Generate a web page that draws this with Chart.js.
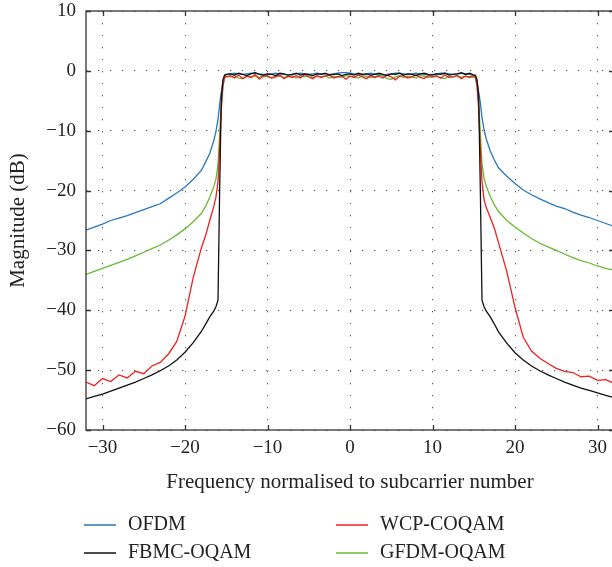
<!DOCTYPE html>
<html>
<head>
<meta charset="utf-8">
<script src="https://cdn.jsdelivr.net/npm/chart.js@4.4.0/dist/chart.umd.min.js"></script>
<style>
html,body{margin:0;padding:0;background:#fff;overflow:hidden}
#wrap{position:relative;width:620px;height:567px}
</style>
</head>
<body>
<div id="wrap"><canvas id="spectrum"></canvas></div>
<script>
// x positions (frequency normalised to subcarrier number)
const freq = [-32,-31,-30,-29,-28,-27,-26,-25,-24,-23,-22,-21,-20,-19,-18,-17.5,-17,-16.5,-16.25,-16,-15.8,-15.6,-15.4,-15.2,
  -15,-14.5,-14,-13.5,-13,-12.5,-12,-11.5,-11,-10.5,-10,-9.5,-9,-8.5,-8,-7.5,-7,-6.5,-6,-5.5,-5,-4.5,-4,-3.5,-3,-2.5,-2,-1.5,-1,-0.5,
  0,0.5,1,1.5,2,2.5,3,3.5,4,4.5,5,5.5,6,6.5,7,7.5,8,8.5,9,9.5,10,10.5,11,11.5,12,12.5,13,13.5,14,14.5,15,
  15.2,15.4,15.6,15.8,16,16.25,16.5,17,17.5,18,19,20,21,22,23,24,25,26,27,28,29,30,31,32];

// magnitudes in dB
const ofdm = [-26.6,-26.1,-25.6,-25.0,-24.6,-24.2,-23.7,-23.2,-22.7,-22.2,-21.3,-20.4,-19.4,-18.1,-16.6,-15.2,-13.8,-11.6,-10.1,-8.1,-5.6,-3.5,-1.8,-0.9,
  -0.6,-0.5,-0.4,-0.5,-0.6,-0.5,-0.4,-0.4,-0.5,-0.6,-0.6,-0.5,-0.4,-0.5,-0.6,-0.7,-0.6,-0.5,-0.4,-0.5,-0.6,-0.5,-0.4,-0.5,-0.5,-0.6,-0.5,-0.4,-0.3,-0.3,
  -0.4,-0.5,-0.6,-0.6,-0.5,-0.4,-0.5,-0.6,-0.7,-0.6,-0.5,-0.4,-0.4,-0.5,-0.6,-0.5,-0.4,-0.5,-0.6,-0.7,-0.6,-0.5,-0.4,-0.4,-0.5,-0.6,-0.5,-0.4,-0.5,-0.6,-0.8,
  -0.9,-1.8,-3.5,-5.3,-7.8,-9.8,-11.3,-13.4,-14.9,-16.2,-17.6,-18.8,-19.9,-20.7,-21.4,-22.0,-22.6,-23.0,-23.6,-24.1,-24.5,-25.0,-25.5,-26.0];

const wcp = [-52.0,-52.6,-51.4,-51.9,-50.8,-51.3,-50.2,-50.6,-49.3,-48.7,-47.3,-45.2,-41.0,-34.5,-29.5,-27.5,-25.0,-22.6,-21.1,-18.6,-13.0,-6.5,-2.5,-1.1,
  -1.0,-0.8,-1.2,-0.7,-1.3,-0.9,-1.1,-0.6,-1.4,-0.9,-0.8,-1.2,-1.0,-0.7,-1.3,-0.9,-1.1,-0.8,-1.2,-0.6,-1.0,-1.3,-0.8,-1.1,-0.9,-0.7,-1.2,-1.0,-0.8,-1.4,
  -0.9,-1.1,-0.7,-1.0,-1.3,-0.8,-1.1,-0.9,-1.2,-0.7,-1.0,-1.5,-0.9,-0.8,-1.2,-1.0,-0.7,-1.1,-1.3,-0.8,-1.0,-0.9,-1.2,-0.7,-1.1,-1.0,-0.8,-1.3,-0.9,-1.1,-0.8,
  -1.1,-2.5,-6.5,-13.0,-18.5,-21.5,-22.8,-24.5,-26.3,-28.7,-33.5,-39.5,-44.5,-46.8,-48.0,-48.9,-49.7,-50.2,-50.4,-51.1,-51.0,-51.7,-51.6,-52.2];

const fbmc = [-54.8,-54.4,-54.0,-53.5,-53.0,-52.5,-52.0,-51.4,-50.8,-50.1,-49.3,-48.3,-47.0,-45.4,-43.5,-42.3,-41.1,-40.1,-39.4,-38.3,-20.0,-4.5,-1.5,-0.7,
  -0.6,-0.5,-0.7,-0.4,-0.6,-0.8,-0.5,-0.3,-0.6,-0.7,-0.5,-0.6,-0.8,-0.4,-0.5,-0.7,-0.6,-0.4,-0.7,-0.5,-0.6,-0.8,-0.5,-0.6,-0.4,-0.7,-0.6,-0.5,-0.8,-0.6,
  -0.5,-0.7,-0.4,-0.6,-0.5,-0.7,-0.6,-0.4,-0.6,-0.8,-0.5,-0.6,-0.4,-0.7,-0.5,-0.6,-0.8,-0.5,-0.4,-0.6,-0.7,-0.5,-0.6,-0.4,-0.7,-0.6,-0.5,-0.3,-0.6,-0.4,-0.7,
  -0.7,-1.5,-4.5,-20.0,-38.3,-39.4,-40.1,-41.1,-42.3,-43.6,-45.5,-47.1,-48.3,-49.3,-50.1,-50.8,-51.4,-52.0,-52.5,-53.0,-53.4,-53.8,-54.2,-54.6];

const gfdm = [-34.0,-33.5,-33.0,-32.5,-32.0,-31.5,-30.9,-30.3,-29.7,-29.1,-28.3,-27.4,-26.4,-25.2,-23.8,-22.6,-21.1,-19.3,-18.1,-15.6,-10.5,-5.5,-2.5,-1.1,
  -0.9,-1.0,-0.8,-1.2,-1.3,-0.8,-1.0,-0.9,-1.1,-0.7,-1.0,-1.2,-0.8,-0.9,-1.1,-1.0,-0.8,-1.2,-0.9,-1.0,-0.7,-1.1,-0.9,-1.0,-0.8,-1.2,-0.9,-1.0,-1.1,-0.8,
  -0.9,-1.0,-1.2,-0.8,-0.9,-1.1,-1.0,-0.7,-0.9,-1.3,-1.4,-1.0,-0.8,-1.1,-0.9,-1.0,-1.2,-0.8,-0.9,-1.1,-1.0,-0.8,-1.2,-1.3,-0.9,-1.0,-0.8,-1.1,-0.9,-1.0,-1.1,
  -1.1,-2.5,-5.5,-10.5,-15.5,-18.0,-19.2,-21.0,-22.4,-23.5,-25.0,-26.1,-27.1,-28.0,-28.8,-29.4,-30.0,-30.6,-31.2,-31.7,-32.1,-32.6,-33.0,-33.3];

const xTicks = [-30,-20,-10,0,10,20,30];
const yTicks = [-60,-50,-40,-30,-20,-10,0,10];

const FONT = '"Liberation Serif","DejaVu Serif",serif';
const minus = v => v < 0 ? '\u2212' + Math.abs(v) : String(v);
const pts = ys => freq.map((x,i)=>({x:x, y:ys[i]}));

// legend layout: [label, column x, row y]
const legendSlots = [['OFDM',84,525],['WCP-COQAM',336,525],['FBMC-OQAM',84,553],['GFDM-OQAM',336,553]];

const frameAndLegend = {
  id:'frameAndLegend',
  afterDraw(chart){
    const {ctx, chartArea:a, scales} = chart;
    ctx.save();
    ctx.strokeStyle='#333';
    ctx.lineWidth=1.3;
    ctx.strokeRect(a.left, a.top, a.right-a.left, a.bottom-a.top);
    ctx.beginPath();
    xTicks.forEach(v=>{
      const px = Math.round(scales.x.getPixelForValue(v))+0.5;
      ctx.moveTo(px,a.bottom); ctx.lineTo(px,a.bottom-5);
      ctx.moveTo(px,a.top); ctx.lineTo(px,a.top+5);
    });
    yTicks.forEach(v=>{
      const py = Math.round(scales.y.getPixelForValue(v))+0.5;
      ctx.moveTo(a.left,py); ctx.lineTo(a.left+5,py);
      ctx.moveTo(a.right,py); ctx.lineTo(a.right-5,py);
    });
    ctx.stroke();

    // legend
    ctx.font = '20px '+FONT;
    ctx.textBaseline='middle';
    ctx.fillStyle='#222';
    legendSlots.forEach(([label,x,y])=>{
      const ds = chart.data.datasets.find(d=>d.label===label);
      ctx.strokeStyle=ds.borderColor;
      ctx.lineWidth=1.5;
      ctx.beginPath(); ctx.moveTo(x,y); ctx.lineTo(x+32,y); ctx.stroke();
      ctx.fillText(label, x+44, y);
    });
    ctx.restore();
  }
};

const grid = {color:'#555', lineWidth:1, drawTicks:false};
const border = {display:false, dash:[1.3,10.7]};

new Chart(document.getElementById('spectrum'), {
  type:'line',
  data:{
    datasets:[
      {label:'FBMC-OQAM', data:pts(fbmc), borderColor:'#111111'},
      {label:'WCP-COQAM', data:pts(wcp), borderColor:'#ee2222'},
      {label:'GFDM-OQAM', data:pts(gfdm), borderColor:'#66bb33'},
      {label:'OFDM', data:pts(ofdm), borderColor:'#2a77bb'}
    ]
  },
  options:{
    responsive:true,
    maintainAspectRatio:false,
    animation:false,
    parsing:false,
    layout:{padding:{top:11,right:6,bottom:67,left:0}},
    elements:{line:{borderWidth:1.3,tension:0}, point:{radius:0}},
    plugins:{legend:{display:false}, tooltip:{enabled:false}},
    scales:{
      x:{
        type:'linear', min:-32, max:32,
        grid:grid, border:border,
        ticks:{stepSize:10, includeBounds:false, padding:9, color:'#222', font:{family:FONT,size:19,lineHeight:1}, callback:minus},
        title:{display:true, text:'Frequency normalised to subcarrier number', color:'#222', font:{family:FONT,size:21}, padding:{top:0,bottom:5}},
        afterFit(s){ s.height = 70; s.paddingLeft = 0; s.paddingRight = 0; }
      },
      y:{
        type:'linear', min:-60, max:10,
        grid:grid, border:border,
        ticks:{stepSize:10, padding:10, color:'#222', font:{family:FONT,size:19,lineHeight:1}, callback:minus},
        title:{display:true, text:'Magnitude (dB)', color:'#222', font:{family:FONT,size:21}, padding:{top:6,bottom:0}},
        afterFit(s){ s.width = 86; s.paddingTop = 0; s.paddingBottom = 0; }
      }
    }
  },
  plugins:[frameAndLegend]
});
</script>
</body>
</html>
